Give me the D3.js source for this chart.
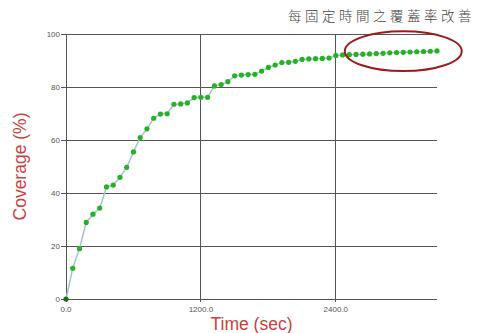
<!DOCTYPE html>
<html>
<head>
<meta charset="utf-8">
<script src="https://cdn.jsdelivr.net/npm/d3@7"></script>
<style>
  html, body { margin: 0; padding: 0; background: #fff; }
  svg { display: block; }
</style>
</head>
<body>
<svg id="chart" width="481" height="333"></svg>
<script>
// ---- data ----
const timeStep = 60; // seconds between samples
const coverage = [
  0, 11.6, 19.0, 28.9, 32.0, 34.3, 42.3, 43.0, 45.9, 49.7,
  55.5, 60.9, 64.2, 68.2, 69.8, 69.9, 73.5, 73.6, 74.0, 76.0,
  76.1, 76.1, 80.4, 80.9, 82.0, 84.2, 84.5, 84.7, 84.8, 86.0,
  87.4, 88.3, 89.2, 89.3, 89.7, 90.4, 90.6, 90.7, 90.8, 90.9,
  91.9, 92.1, 92.2, 92.3, 92.4, 92.5, 92.6, 92.7, 92.9, 93.0,
  93.1, 93.2, 93.3, 93.4, 93.5, 93.6
];
const times = coverage.map((_, i) => i * timeStep);
const xTicks = [0, 1200, 2400];
const yTicks = [0, 20, 40, 60, 80, 100];
const xMax = 3300;
const title = "每固定時間之覆蓋率改善";
const xLabel = "Time (sec)";
const yLabel = "Coverage (%)";
// annotation ellipse (data units)
const highlight = { x0: 2480, x1: 3520, y0: 86.0, y1: 101.0 };

(function () {
// ---- layout ----
const svg = d3.select("#chart");
const mLeft = 66, mRight = 437, mTop = 34, mBottom = 299;
const x = d3.scaleLinear().domain([0, xMax]).range([mLeft, mRight]);
const y = d3.scaleLinear().domain([0, 100]).range([mBottom, mTop]);

const gridColor = "#555";
const tickColor = "#555";

// horizontal gridlines
svg.append("g").selectAll("line").data(yTicks).join("line")
  .attr("x1", x(0) - 5).attr("x2", x(xMax))
  .attr("y1", d => y(d)).attr("y2", d => y(d))
  .attr("stroke", gridColor).attr("stroke-width", 1)
  .attr("shape-rendering", "crispEdges");

// vertical gridlines
svg.append("g").selectAll("line").data(xTicks).join("line")
  .attr("x1", d => x(d)).attr("x2", d => x(d))
  .attr("y1", y(100)).attr("y2", y(0) + 3)
  .attr("stroke", gridColor).attr("stroke-width", 1)
  .attr("shape-rendering", "crispEdges");

// y tick labels
svg.append("g").selectAll("text").data(yTicks).join("text")
  .attr("x", x(0) - 6).attr("y", d => y(d))
  .attr("dy", "0.35em").attr("text-anchor", "end")
  .attr("font-family", "Liberation Sans, Arial, sans-serif")
  .attr("font-size", 8).attr("fill", tickColor)
  .text(d => d);

// x tick labels
svg.append("g").selectAll("text").data(xTicks).join("text")
  .attr("x", d => x(d)).attr("y", y(0) + 13)
  .attr("text-anchor", "middle")
  .attr("font-family", "Liberation Sans, Arial, sans-serif")
  .attr("font-size", 8).attr("fill", tickColor)
  .text(d => d3.format(".1f")(d));

// line
const line = d3.line().x((d, i) => x(times[i])).y(d => y(d));
svg.append("path").datum(coverage)
  .attr("d", line)
  .attr("fill", "none")
  .attr("stroke", "#a9bfd6")
  .attr("stroke-width", 1.5);

// points
svg.append("g").selectAll("circle").data(coverage).join("circle")
  .attr("cx", (d, i) => x(times[i]))
  .attr("cy", d => y(d))
  .attr("r", 2.6)
  .attr("fill", (d, i) => i === 0 ? "#1d6b1d" : "#25b325");

// highlight ellipse
svg.append("ellipse")
  .attr("cx", (x(highlight.x0) + x(highlight.x1)) / 2)
  .attr("cy", (y(highlight.y0) + y(highlight.y1)) / 2)
  .attr("rx", (x(highlight.x1) - x(highlight.x0)) / 2)
  .attr("ry", (y(highlight.y0) - y(highlight.y1)) / 2)
  .attr("fill", "none")
  .attr("stroke", "#9a1c1c")
  .attr("stroke-width", 2);

// title
svg.append("text")
  .attr("x", 475).attr("y", 21)
  .attr("text-anchor", "end")
  .attr("font-family", "Noto Sans CJK TC, Noto Sans CJK SC, sans-serif")
  .attr("font-size", 13.5)
  .attr("font-weight", 300)
  .attr("letter-spacing", 3.5)
  .attr("fill", "#444")
  .text(title);

// axis labels
svg.append("text")
  .attr("x", (x(0) + x(xMax)) / 2).attr("y", 330)
  .attr("text-anchor", "middle")
  .attr("font-family", "Liberation Sans, Arial, sans-serif")
  .attr("font-size", 17.5)
  .attr("fill", "#c8423f")
  .text(xLabel);

svg.append("text")
  .attr("transform", `translate(26, ${(y(0) + y(100)) / 2}) rotate(-90)`)
  .attr("text-anchor", "middle")
  .attr("font-family", "Liberation Sans, Arial, sans-serif")
  .attr("font-size", 17.5)
  .attr("fill", "#c8423f")
  .text(yLabel);
})();
</script>
</body>
</html>
